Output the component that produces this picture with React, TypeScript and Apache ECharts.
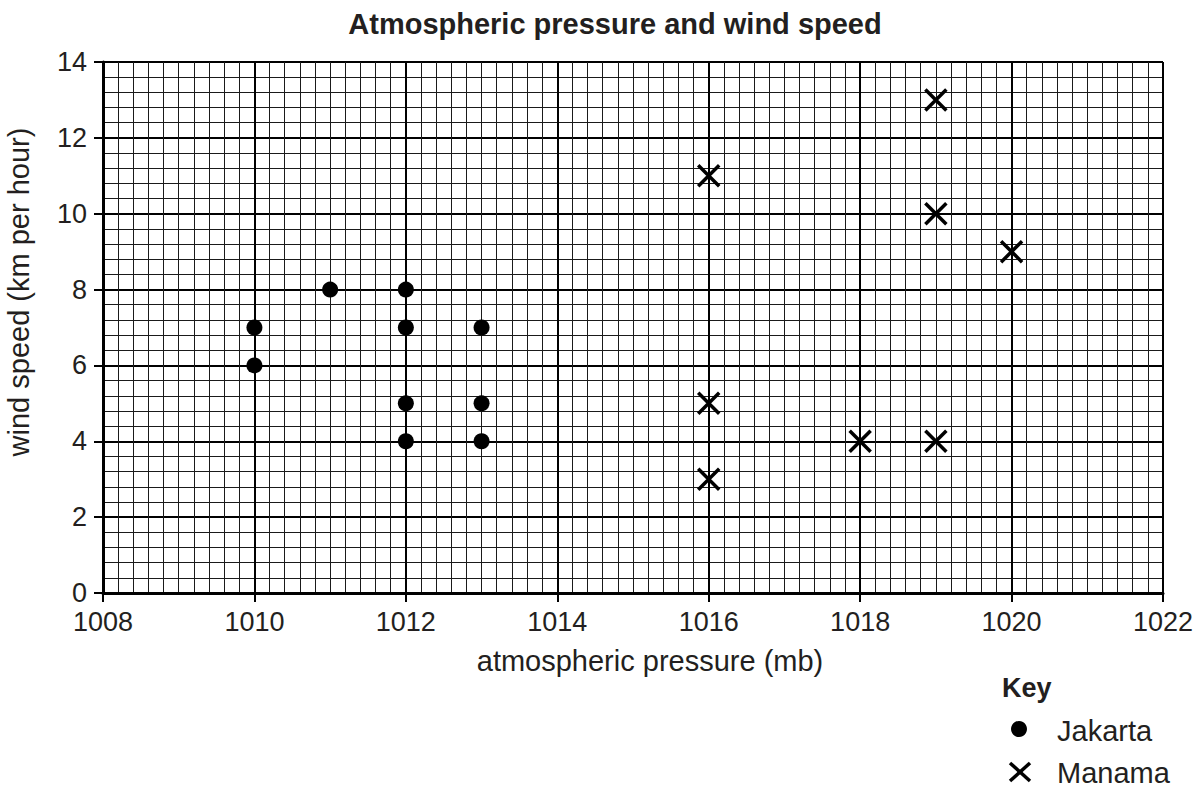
import React, { useEffect, useRef } from "react";
import * as echarts from "echarts";

const jakartaPressure = [1010, 1010, 1011, 1012, 1012, 1012, 1012, 1013, 1013, 1013];
const jakartaWind = [7, 6, 8, 8, 7, 5, 4, 7, 5, 4];
const manamaPressure = [1016, 1016, 1016, 1018, 1019, 1019, 1019, 1020];
const manamaWind = [11, 5, 3, 4, 13, 10, 4, 9];
const seriesNames = ["Jakarta", "Manama"];
const titleText = "Atmospheric pressure and wind speed";
const xName = "atmospheric pressure (mb)";
const yName = "wind speed (km per hour)";
const keyTitle = "Key";

const FONT = "'Liberation Sans', Arial, Helvetica, sans-serif";
const CROSS = "path://M0,0L10,10M10,0L0,10";
const INK = "#231f20";

export default function App() {
  const ref = useRef<HTMLDivElement>(null);
  useEffect(() => {
    if (!ref.current) return;
    const chart = echarts.init(ref.current, undefined, { renderer: "svg" });
    const jak = jakartaPressure.map((p, i) => [p, jakartaWind[i]]);
    const man = manamaPressure.map((p, i) => [p, manamaWind[i]]);
    chart.setOption({
      animation: false,
      backgroundColor: "#ffffff",
      textStyle: { fontFamily: FONT },
      grid: { left: 103, right: 37, top: 62, bottom: 197, containLabel: false },
      xAxis: {
        type: "value",
        min: 1008,
        max: 1022,
        interval: 2,
        axisLine: { show: true, onZero: false, lineStyle: { color: "#000", width: 3 } },
        axisTick: { show: true, length: 9, lineStyle: { color: "#000", width: 2 } },
        axisLabel: {
          fontFamily: FONT,
          fontSize: 27,
          color: INK,
          margin: 15,
          formatter: (v: number) => String(v),
        },
        splitLine: { show: true, lineStyle: { color: "#000", width: 2 } },
        minorTick: { show: false, splitNumber: 10 },
        minorSplitLine: { show: true, lineStyle: { color: "#1a1a1a", width: 1 } },
      },
      yAxis: {
        type: "value",
        min: 0,
        max: 14,
        interval: 2,
        axisLine: { show: true, onZero: false, lineStyle: { color: "#000", width: 3 } },
        axisTick: { show: true, length: 9, lineStyle: { color: "#000", width: 2 } },
        axisLabel: { fontFamily: FONT, fontSize: 27, color: INK, margin: 16 },
        splitLine: { show: true, lineStyle: { color: "#000", width: 2 } },
        minorTick: { show: false, splitNumber: 5 },
        minorSplitLine: { show: true, lineStyle: { color: "#1a1a1a", width: 1 } },
      },
      series: [
        {
          name: seriesNames[0],
          type: "scatter",
          data: jak,
          symbol: "circle",
          symbolSize: 16,
          itemStyle: { color: "#000", opacity: 1 },
          z: 5,
        },
        {
          name: seriesNames[1],
          type: "scatter",
          data: man,
          symbol: CROSS,
          symbolSize: 21,
          itemStyle: { color: "none", borderColor: "#000", borderWidth: 3.5, opacity: 1 },
          z: 5,
        },
      ],
      graphic: [
        {
          type: "text",
          x: 615,
          y: 24,
          style: {
            text: titleText,
            font: `bold 29px ${FONT}`,
            fill: INK,
            align: "center",
            verticalAlign: "middle",
          },
        },
        {
          type: "text",
          x: 650,
          y: 661,
          style: {
            text: xName,
            font: `29px ${FONT}`,
            fill: INK,
            align: "center",
            verticalAlign: "middle",
          },
        },
        {
          type: "text",
          x: 19,
          y: 292,
          rotation: Math.PI / 2,
          style: {
            text: yName,
            font: `29px ${FONT}`,
            fill: INK,
            align: "center",
            verticalAlign: "middle",
          },
        },
        {
          type: "text",
          x: 1002,
          y: 688,
          style: { text: keyTitle, font: `bold 27px ${FONT}`, fill: INK, verticalAlign: "middle" },
        },
        {
          type: "circle",
          shape: { cx: 1019, cy: 729, r: 8 },
          style: { fill: "#000" },
        },
        {
          type: "text",
          x: 1057,
          y: 731,
          style: { text: seriesNames[0], font: `29px ${FONT}`, fill: INK, verticalAlign: "middle" },
        },
        {
          type: "line",
          shape: { x1: 1010, y1: 763, x2: 1030, y2: 781 },
          style: { stroke: "#000", lineWidth: 3.5 },
        },
        {
          type: "line",
          shape: { x1: 1030, y1: 763, x2: 1010, y2: 781 },
          style: { stroke: "#000", lineWidth: 3.5 },
        },
        {
          type: "text",
          x: 1057,
          y: 773,
          style: { text: seriesNames[1], font: `29px ${FONT}`, fill: INK, verticalAlign: "middle" },
        },
      ],
    });
    return () => chart.dispose();
  }, []);
  return <div ref={ref} style={{ width: 1200, height: 790, position: "absolute", left: 0, top: 0 }} />;
}
